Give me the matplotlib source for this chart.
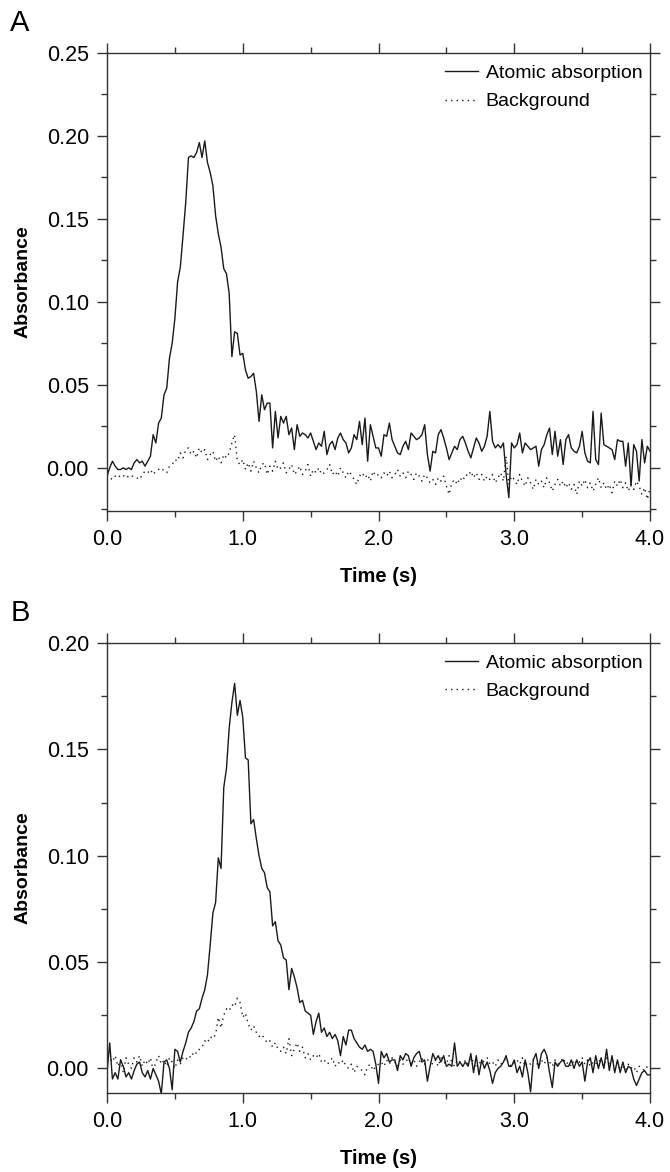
import numpy as np
import matplotlib
matplotlib.use("Agg")
import matplotlib.pyplot as plt
from matplotlib.ticker import MultipleLocator, FormatStrFormatter

plt.rcParams["font.family"] = ["Liberation Sans", "DejaVu Sans"]

# time axis, 0.02 s steps (201 samples)
time_s = np.round(np.arange(201) * 0.02, 2)

# Panel A - atomic absorption signal
atomic_a = [
    -0.005, 0.000, 0.004, 0.001, -0.001, -0.001, 0.000, -0.001, 0.000, -0.001,
    0.003, 0.005, 0.003, 0.004, 0.001, 0.004, 0.007, 0.020, 0.015, 0.027,
    0.030, 0.044, 0.048, 0.066, 0.075, 0.090, 0.112, 0.121, 0.140, 0.160,
    0.187, 0.188, 0.187, 0.190, 0.196, 0.187, 0.197, 0.184, 0.178, 0.170,
    0.152, 0.141, 0.133, 0.120, 0.117, 0.105, 0.067, 0.082, 0.081, 0.068,
    0.069, 0.059, 0.054, 0.055, 0.057, 0.046, 0.028, 0.044, 0.035, 0.039,
    0.039, 0.012, 0.034, 0.018, 0.031, 0.027, 0.031, 0.020, 0.024, 0.011,
    0.026, 0.019, 0.021, 0.020, 0.018, 0.021, 0.016, 0.011, 0.015, 0.013,
    0.022, 0.008, 0.014, 0.016, 0.011, 0.018, 0.021, 0.017, 0.015, 0.009,
    0.012, 0.020, 0.017, 0.028, 0.014, 0.030, 0.004, 0.026, 0.019, 0.012,
    0.012, 0.007, 0.020, 0.019, 0.027, 0.017, 0.013, 0.009, 0.008, 0.013,
    0.016, 0.011, 0.021, 0.019, 0.017, 0.018, 0.020, 0.026, 0.008, -0.002,
    0.010, 0.009, 0.020, 0.023, 0.018, 0.012, 0.005, 0.009, 0.013, 0.011,
    0.017, 0.019, 0.015, 0.010, 0.006, 0.012, 0.018, 0.015, 0.010, 0.013,
    0.019, 0.034, 0.016, 0.012, 0.014, 0.012, 0.015, -0.004, -0.018, 0.015,
    0.012, 0.014, 0.021, 0.009, 0.015, 0.013, 0.011, 0.012, 0.013, 0.001,
    0.011, 0.014, 0.020, 0.024, 0.008, 0.022, 0.007, 0.017, 0.002, 0.017,
    0.020, 0.012, 0.010, 0.009, 0.013, 0.022, 0.009, 0.004, 0.003, 0.034,
    0.005, 0.002, 0.033, 0.014, 0.013, 0.012, 0.011, 0.005, 0.017, 0.016,
    0.016, 0.001, 0.015, -0.011, 0.014, 0.010, -0.008, 0.017, 0.003, 0.013,
    0.010,
]

# Panel A - background signal
background_a = [
    -0.004, -0.006, -0.007, -0.005, -0.004, -0.006, -0.005, -0.004, -0.006, -0.005,
    -0.005, -0.006, -0.007, -0.004, -0.002, -0.003, -0.001, -0.004, -0.002, -0.001,
    0.000, -0.002, -0.003, 0.001, 0.002, 0.005, 0.004, 0.009, 0.006, 0.011,
    0.012, 0.008, 0.010, 0.006, 0.012, 0.009, 0.011, 0.005, 0.008, 0.010,
    0.004, 0.007, 0.003, 0.008, 0.006, 0.009, 0.015, 0.020, 0.004, 0.002,
    0.005, -0.001, 0.003, -0.002, 0.004, 0.000, -0.003, 0.002, 0.003, -0.004,
    0.001, -0.002, 0.004, -0.001, 0.000, 0.003, -0.003, -0.001, 0.002, -0.004,
    -0.002, 0.001, -0.004, -0.002, 0.002, -0.005, -0.001, -0.003, 0.000, -0.004,
    -0.003, -0.001, 0.002, -0.004, -0.002, -0.005, 0.000, -0.003, -0.006, -0.002,
    -0.004, -0.007, -0.010, -0.005, -0.003, -0.006, -0.004, -0.008, -0.002, -0.005,
    -0.004, -0.006, -0.003, -0.005, -0.002, -0.006, -0.004, -0.001, -0.005, -0.003,
    -0.006, -0.002, -0.004, -0.007, -0.003, -0.005, -0.008, -0.004, -0.006, -0.009,
    -0.007, -0.010, -0.006, -0.008, -0.005, -0.011, -0.016, -0.009, -0.007, -0.010,
    -0.006, -0.008, -0.004, -0.005, -0.002, -0.006, -0.003, -0.007, -0.004, -0.008,
    -0.005, -0.007, -0.004, -0.009, -0.006, -0.003, -0.008, 0.007, -0.010, -0.005,
    -0.007, -0.010, -0.004, -0.008, -0.011, -0.006, -0.009, -0.013, -0.007, -0.010,
    -0.008, -0.012, -0.006, -0.009, -0.014, -0.010, -0.007, -0.011, -0.008, -0.012,
    -0.009, -0.013, -0.010, -0.016, -0.008, -0.011, -0.007, -0.012, -0.009, -0.014,
    -0.010, -0.006, -0.012, -0.009, -0.013, -0.010, -0.015, -0.008, -0.011, -0.007,
    -0.012, -0.009, -0.014, -0.010, -0.013, -0.008, -0.011, -0.016, -0.012, -0.019,
    -0.012,
]

# Panel B - atomic absorption signal
atomic_b = [
    -0.002, 0.012, -0.005, -0.002, -0.005, 0.004, 0.001, -0.004, -0.002, -0.005,
    -0.001, 0.002, 0.003, -0.002, -0.004, -0.001, -0.005, 0.000, -0.003, -0.006,
    -0.012, 0.003, 0.004, 0.000, -0.010, 0.009, 0.008, 0.003, 0.008, 0.012,
    0.017, 0.019, 0.022, 0.027, 0.028, 0.033, 0.037, 0.044, 0.058, 0.073,
    0.078, 0.099, 0.094, 0.132, 0.141, 0.160, 0.172, 0.181, 0.166, 0.173,
    0.165, 0.146, 0.145, 0.115, 0.117, 0.108, 0.100, 0.094, 0.092, 0.085,
    0.083, 0.067, 0.069, 0.060, 0.058, 0.052, 0.051, 0.037, 0.047, 0.043,
    0.038, 0.031, 0.032, 0.027, 0.026, 0.025, 0.016, 0.022, 0.026, 0.017,
    0.019, 0.015, 0.017, 0.014, 0.016, 0.013, 0.006, 0.015, 0.011, 0.018,
    0.018, 0.014, 0.012, 0.010, 0.009, 0.011, 0.008, 0.009, 0.008, 0.002,
    -0.007, 0.008, 0.005, 0.007, 0.003, 0.004, 0.004, -0.001, 0.006, 0.004,
    0.007, 0.006, 0.001, 0.005, 0.007, 0.008, 0.003, 0.004, -0.006, 0.001,
    0.007, 0.004, 0.006, 0.003, 0.006, 0.001, 0.002, 0.001, 0.012, 0.001,
    0.003, 0.001, 0.003, 0.001, 0.007, -0.002, 0.006, -0.003, 0.004, 0.000,
    0.003, -0.001, -0.007, -0.002, 0.000, 0.001, 0.003, 0.006, 0.001, 0.001,
    0.004, -0.002, 0.001, -0.004, 0.004, -0.002, -0.011, 0.004, 0.007, 0.000,
    0.007, 0.009, 0.006, -0.002, -0.009, 0.003, 0.001, 0.003, 0.004, 0.001,
    0.001, 0.004, 0.000, 0.004, 0.001, 0.003, -0.006, 0.003, 0.005, -0.002,
    0.006, 0.000, 0.005, 0.000, 0.009, -0.001, 0.006, -0.002, 0.004, -0.002,
    0.003, -0.002, 0.001, 0.000, -0.005, -0.008, -0.005, -0.002, -0.001, -0.003,
    -0.003,
]

# Panel B - background signal
background_b = [
    0.004, 0.005, 0.003, 0.006, 0.001, 0.004, -0.002, 0.005, 0.002, 0.000,
    0.005, 0.003, 0.006, 0.001, 0.004, 0.002, 0.005, -0.001, 0.003, 0.006,
    0.002, 0.004, 0.001, 0.005, 0.003, 0.000, 0.004, 0.002, 0.005, 0.004,
    0.006, 0.005, 0.008, 0.007, 0.009, 0.010, 0.013, 0.012, 0.015, 0.014,
    0.016, 0.024, 0.019, 0.025, 0.028, 0.027, 0.030, 0.029, 0.033, 0.031,
    0.024, 0.026, 0.021, 0.018, 0.020, 0.017, 0.015, 0.016, 0.014, 0.012,
    0.013, 0.010, 0.012, 0.009, 0.008, 0.010, 0.007, 0.014, 0.006, 0.009,
    0.012, 0.008, 0.010, 0.005, 0.007, 0.004, 0.006, 0.005, 0.007, 0.003,
    0.004, 0.002, 0.003, 0.005, 0.001, 0.003, 0.002, 0.004, 0.001, 0.000,
    0.002, -0.002, 0.001, 0.000, -0.001, -0.003, 0.001, 0.002, -0.001, 0.001,
    0.002, 0.003, 0.001, 0.004, 0.002, 0.005, 0.003, 0.001, 0.004, 0.002,
    0.003, 0.005, 0.002, 0.004, 0.001, 0.003, 0.005, 0.002, 0.004, 0.003,
    0.002, 0.004, 0.001, 0.005, 0.003, 0.002, 0.006, 0.003, 0.001, 0.004,
    0.003, 0.001, 0.004, 0.002, 0.005, 0.003, 0.000, 0.003, 0.002, 0.004,
    0.005, 0.002, 0.003, 0.001, 0.004, 0.002, 0.003, 0.005, 0.002, 0.001,
    0.003, 0.004, 0.002, 0.005, 0.001, 0.003, 0.002, 0.004, 0.003, 0.001,
    0.004, 0.002, 0.005, 0.003, 0.001, 0.004, 0.002, 0.003, 0.005, 0.002,
    0.003, 0.001, 0.004, 0.002, 0.003, 0.005, 0.002, 0.004, 0.001, 0.003,
    0.002, 0.004, 0.003, 0.001, 0.005, 0.002, 0.003, 0.004, 0.002, 0.000,
    0.001, -0.001, 0.002, 0.000, 0.001, -0.002, 0.001, 0.000, -0.001, 0.001,
    0.001,
]

panels = [
    ("A", atomic_a, background_a, (-0.026, 0.25), 0.05),
    ("B", atomic_b, background_b, (-0.0115, 0.20), 0.05),
]

fig = plt.figure(figsize=(6.7, 11.72), dpi=100)
axes_pos = [
    [0.1597, 0.564, 0.8105, 0.3908],
    [0.1597, 0.0675, 0.8105, 0.3839],
]

for (letter, atomic, background, ylim, ystep), pos in zip(panels, axes_pos):
    ax = fig.add_axes(pos)
    ax.plot(time_s, atomic, color="#1a1a1a", lw=1.0, label="Atomic absorption")
    ax.plot(time_s, background, color="#1a1a1a", lw=1.0, ls=(0, (1, 3)),
            label="Background")

    ax.set_xlim(0, 4.0)
    ax.set_ylim(*ylim)
    ax.xaxis.set_major_locator(MultipleLocator(1.0))
    ax.xaxis.set_minor_locator(MultipleLocator(0.5))
    ax.yaxis.set_major_locator(MultipleLocator(ystep))
    ax.yaxis.set_minor_locator(MultipleLocator(ystep / 2))
    ax.xaxis.set_major_formatter(FormatStrFormatter("%.1f"))
    ax.yaxis.set_major_formatter(FormatStrFormatter("%.2f"))
    ax.tick_params(which="both", direction="out", top=True, right=True,
                   labelsize=15.5, width=1.0, color="#333333")
    ax.tick_params(which="major", length=7, pad=6)
    ax.tick_params(which="minor", length=4)
    for s in ax.spines.values():
        s.set_linewidth(1.0)
        s.set_color("#333333")

    ax.set_xlabel("Time (s)", fontsize=14.5, fontweight="bold", labelpad=12)
    ax.set_ylabel("Absorbance", fontsize=14, fontweight="bold", labelpad=11)

    ax.legend(loc="upper right", bbox_to_anchor=(1.0, 0.992), frameon=False,
              fontsize=14, handlelength=1.7, handletextpad=0.4,
              labelspacing=0.55, borderaxespad=0.0)

    ax.text(-0.178, 1.035, letter, transform=ax.transAxes, fontsize=21,
            ha="left", va="bottom")

fig.savefig("out.png", dpi=100)
